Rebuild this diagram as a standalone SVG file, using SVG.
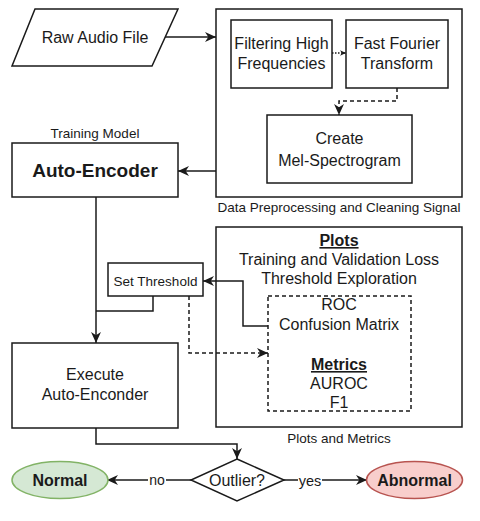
<svg xmlns="http://www.w3.org/2000/svg" width="480" height="521" viewBox="0 0 480 521">
<style>
text{font-family:"Liberation Sans",Arial,sans-serif;fill:#1a1a1a;text-anchor:middle}
.t16{font-size:16px}
.t13{font-size:13.5px}
.b{font-weight:bold}
.u{text-decoration:underline}
.box{fill:#fff;stroke:#1a1a1a;stroke-width:1.5}
.cont{fill:none;stroke:#1a1a1a;stroke-width:1.5}
.dash{fill:none;stroke:#1a1a1a;stroke-width:1.5;stroke-dasharray:4 3}
.ln{fill:none;stroke:#1a1a1a;stroke-width:1.5}
.lbl{fill:#fff;stroke:none}
</style>
<defs>
<marker id="arr" viewBox="0 0 10 10" refX="10" refY="5" markerWidth="11" markerHeight="11" markerUnits="userSpaceOnUse" orient="auto">
<path d="M0,0.5 L10,5 L0,9.5 L3,5 z" fill="#1a1a1a"/>
</marker>
<marker id="arrs" viewBox="0 0 10 10" refX="10" refY="5" markerWidth="6" markerHeight="6" markerUnits="userSpaceOnUse" orient="auto">
<path d="M0,0.5 L10,5 L0,9.5 L3,5 z" fill="#1a1a1a"/>
</marker>
</defs>
<rect width="480" height="521" fill="#fff"/>

<g id="preprocessing-container">
<rect class="cont" x="216" y="9" width="246" height="188"/>
<text class="t13" x="339" y="211.5">Data Preprocessing and Cleaning Signal</text>
</g>
<g id="plots-container">
<rect class="cont" x="216" y="227" width="246" height="200"/>
<text class="t13" x="339" y="442.5">Plots and Metrics</text>
<text class="t16 b u" x="339" y="246">Plots</text>
<text class="t16" x="339" y="265">Training and Validation Loss</text>
<text class="t16" x="339" y="284">Threshold Exploration</text>
</g>
<g id="metrics-box">
<rect class="dash" x="268" y="296" width="143" height="115"/>
<text class="t16" x="339" y="310">ROC</text>
<text class="t16" x="339" y="330">Confusion Matrix</text>
<text class="t16 b u" x="339" y="370">Metrics</text>
<text class="t16" x="339" y="389">AUROC</text>
<text class="t16" x="339" y="408">F1</text>
</g>

<g id="connectors">
<path class="ln" d="M165,37 L216,37" marker-end="url(#arr)"/>
<path class="ln" d="M332,53 L346,53" stroke-dasharray="1.5 1.5" marker-end="url(#arrs)"/>
<path class="ln" d="M397,88 L397,101 L339,101 L339,115" stroke-dasharray="4 3" marker-end="url(#arr)"/>
<path class="ln" d="M216,171 L178,171" marker-end="url(#arr)"/>
<path class="ln" d="M96,197 L96,343" marker-end="url(#arr)"/>
<path class="ln" d="M153,296 L153,311 L96,311"/>
<path class="ln" d="M268,326 L243,326 L243,281 L203,281" marker-end="url(#arr)"/>
<path class="ln" d="M189,296 L189,353 L268,353" stroke-dasharray="4 3" marker-end="url(#arr)"/>
<path class="ln" d="M96,428 L96,444 L237,444 L237,459" marker-end="url(#arr)"/>
<path class="ln" d="M191,480 L107,480" marker-end="url(#arr)"/>
<path class="ln" d="M284,480 L367,480" marker-end="url(#arr)"/>
<rect class="lbl" x="148" y="472" width="18" height="16"/>
<text x="157" y="485" style="font-size:14px">no</text>
<rect class="lbl" x="298" y="472" width="24" height="16"/>
<text x="310" y="486" style="font-size:14.5px">yes</text>
</g>

<g id="raw-audio">
<polygon class="box" points="35,9 178,9 152,66 12,66"/>
<text class="t16" x="95" y="43">Raw Audio File</text>
</g>
<g id="filtering">
<rect class="box" x="231" y="20" width="101" height="68"/>
<text class="t16" x="281.5" y="49">Filtering High</text>
<text class="t16" x="281.5" y="69">Frequencies</text>
</g>
<g id="fft">
<rect class="box" x="346" y="20" width="102" height="68"/>
<text class="t16" x="397" y="49">Fast Fourier</text>
<text class="t16" x="397" y="69">Transform</text>
</g>
<g id="mel">
<rect class="box" x="267" y="115" width="145" height="68"/>
<text class="t16" x="339.5" y="144">Create</text>
<text class="t16" x="339.5" y="166">Mel-Spectrogram</text>
</g>
<g id="auto-encoder">
<text class="t13" x="95" y="137.5">Training Model</text>
<rect class="box" x="12" y="143" width="166" height="54"/>
<text class="b" x="95" y="177" style="font-size:19px">Auto-Encoder</text>
</g>
<g id="set-threshold">
<rect class="box" x="108" y="263" width="95" height="33"/>
<text class="t13" x="155.5" y="285.5">Set Threshold</text>
</g>
<g id="execute">
<rect class="box" x="12" y="343" width="166" height="85"/>
<text class="t16" x="95" y="380">Execute</text>
<text class="t16" x="95" y="400">Auto-Enconder</text>
</g>
<g id="outlier">
<polygon class="box" points="237,459 284,480 237,501 191,480"/>
<text class="t16" x="237" y="486">Outlier?</text>
</g>
<g id="normal">
<ellipse cx="60" cy="480" rx="48" ry="18.5" fill="#d5e8d4" stroke="#82b366" stroke-width="1.5"/>
<text class="t16 b" x="60" y="486">Normal</text>
</g>
<g id="abnormal">
<ellipse cx="414.5" cy="480" rx="48" ry="18.5" fill="#f8cecc" stroke="#b85450" stroke-width="1.5"/>
<text class="t16 b" x="414.5" y="486">Abnormal</text>
</g>
</svg>
